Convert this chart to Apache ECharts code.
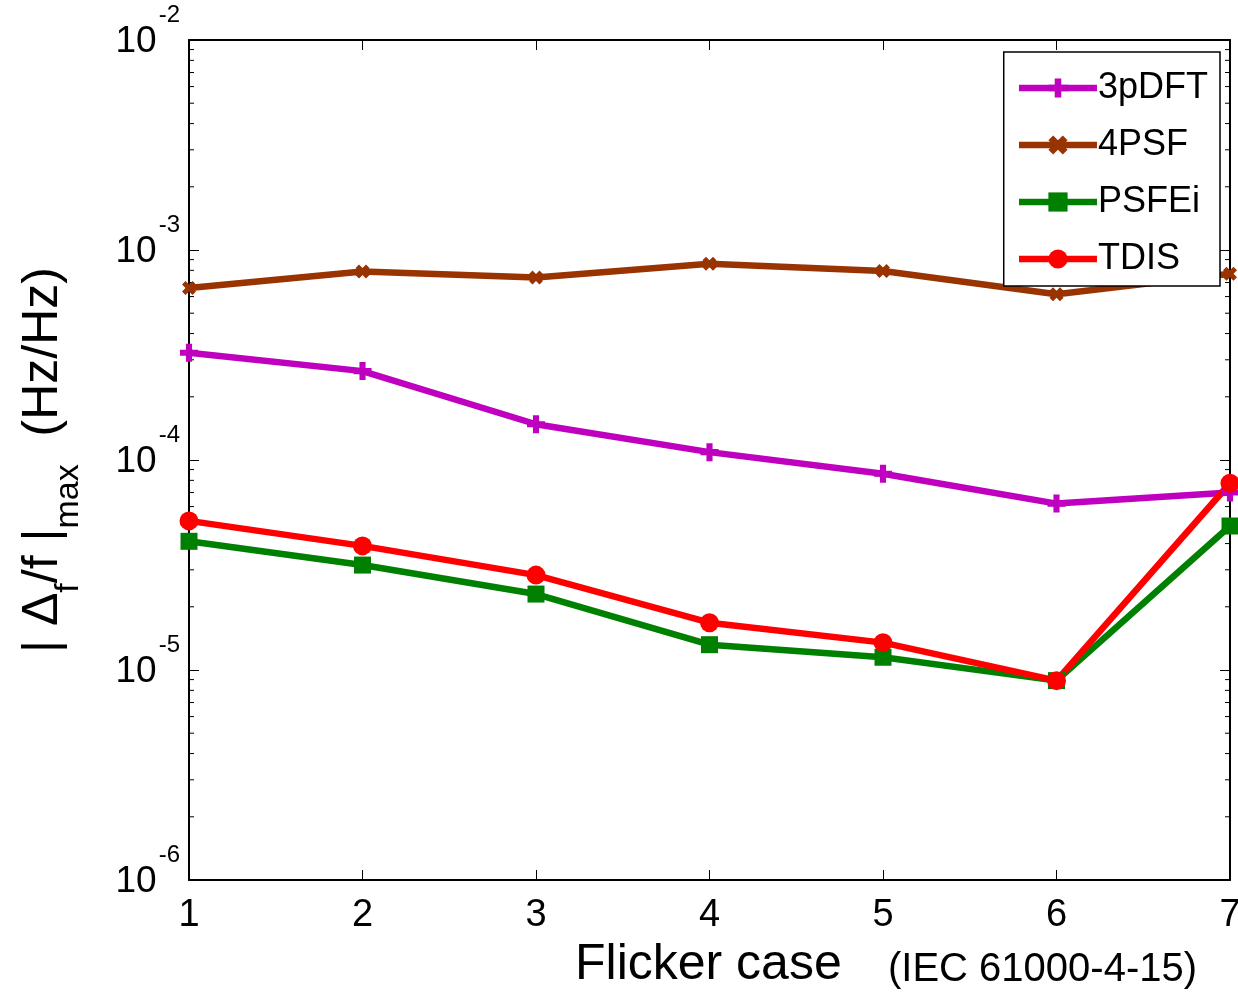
<!DOCTYPE html>
<html>
<head>
<meta charset="utf-8">
<script src="https://cdn.jsdelivr.net/npm/echarts@6/dist/echarts.min.js"></script>
<style>html,body{margin:0;padding:0;background:#fff}#c{width:1238px;height:996px}</style>
</head>
<body>
<div id="c"></div>
<script>
const cases = [1, 2, 3, 4, 5, 6, 7];
const dft3p = [3.24e-4, 2.65e-4, 1.48e-4, 1.09e-4, 8.6e-5, 6.2e-5, 7.0e-5];
const psf4 = [6.6e-4, 7.9e-4, 7.4e-4, 8.6e-4, 7.95e-4, 6.15e-4, 7.7e-4];
const psfei = [4.1e-5, 3.16e-5, 2.3e-5, 1.32e-5, 1.15e-5, 8.9e-6, 4.85e-5];
const tdis = [5.13e-5, 3.9e-5, 2.83e-5, 1.68e-5, 1.35e-5, 8.9e-6, 7.75e-5];
const seriesNames = ['3pDFT', '4PSF', 'PSFEi', 'TDIS'];
const yDecades = [1e-6, 1e-5, 1e-4, 1e-3, 1e-2];
const minorMultipliers = [2, 3, 4, 5, 6, 7, 8, 9];
const xTitle = 'Flicker case';
const xSubtitle = '(IEC 61000-4-15)';

const FONT = 'Liberation Sans, Arial, sans-serif';
const pair = arr => cases.map((c, i) => [c, arr[i]]);

const minorData = [];
for (let d = 0; d < yDecades.length - 1; d++) {
  for (const m of minorMultipliers) minorData.push([cases[0], yDecades[d] * m]);
}

const plusPath = 'path://M3.3,0 H6.7 V3.3 H10 V6.7 H6.7 V10 H3.3 V6.7 H0 V3.3 H3.3 Z';
const xPath = 'path://M0,2.5 L2.5,0 L5,2.5 L7.5,0 L10,2.5 L7.5,5 L10,7.5 L7.5,10 L5,7.5 L2.5,10 L0,7.5 L2.5,5 Z';

function lineSeries(name, data, color, symbol, size) {
  return {
    name, type: 'line', data: pair(data), xAxisIndex: 0, yAxisIndex: 0,
    symbol, symbolSize: size, showSymbol: true, clip: false,
    lineStyle: { color, width: 6.5 }, itemStyle: { color, borderWidth: 0 },
    emphasis: { disabled: true }, z: 3
  };
}

const chart = echarts.init(document.getElementById('c'), null, { renderer: 'canvas' });
chart.setOption({
  animation: false,
  backgroundColor: '#ffffff',
  textStyle: { fontFamily: FONT },
  grid: { left: 189, right: 8, top: 40, bottom: 116, containLabel: false, outerBoundsMode: 'none' },
  legend: {
    data: seriesNames, orient: 'vertical', right: 18, top: 52,
    backgroundColor: '#ffffff', borderColor: '#000', borderWidth: 1.5, borderRadius: 0,
    padding: [16, 12, 7, 12], itemGap: 17, itemWidth: 78, itemHeight: 24,
    lineStyle: { width: 6.5 },
    textStyle: { fontSize: 36, color: '#000', fontFamily: FONT, lineHeight: 40, padding: [0, 0, 0, -4] },
    selectedMode: false
  },
  xAxis: [{
    type: 'value', min: 1, max: 7, interval: 1, position: 'bottom',
    axisLine: { lineStyle: { color: '#000', width: 2 } },
    axisTick: { inside: true, length: 10, lineStyle: { color: '#000', width: 1 } },
    axisLabel: { fontSize: 38, color: '#000', margin: 17, fontFamily: FONT },
    splitLine: { show: false }
  }, {
    type: 'value', min: 1, max: 7, interval: 1, position: 'top',
    axisLine: { lineStyle: { color: '#000', width: 2 } },
    axisTick: { inside: true, length: 10, lineStyle: { color: '#000', width: 1 } },
    axisLabel: { show: false }, splitLine: { show: false }
  }],
  yAxis: [{
    type: 'log', logBase: 10, min: yDecades[0], max: yDecades[yDecades.length - 1], position: 'left',
    axisLine: { show: true, lineStyle: { color: '#000', width: 2 } },
    axisTick: { show: true, inside: true, length: 10, lineStyle: { color: '#000', width: 1 } },
    axisLabel: {
      margin: 9, padding: [0, 0, 16, 0],
      formatter: v => '{b|10}{s|' + Math.round(Math.log10(v)) + '}',
      rich: {
        b: { fontSize: 37, color: '#000', fontFamily: FONT, verticalAlign: 'bottom', padding: [20, 0, 0, 0] },
        s: { fontSize: 24, color: '#000', fontFamily: FONT, verticalAlign: 'top', padding: [0, 0, 0, 2] }
      }
    },
    splitLine: { show: false },
    name: '{t|| Δ}{sub|f}{t|/f |}{sub|max}{t|  (Hz/Hz)}',
    nameLocation: 'middle', nameRotate: 90, nameGap: 103,
    nameTextStyle: {
      rich: {
        t: { fontSize: 50, color: '#000', fontFamily: FONT, verticalAlign: 'top' },
        sub: { fontSize: 34, color: '#000', fontFamily: FONT, verticalAlign: 'bottom', padding: [34, 0, 0, 0] }
      }
    }
  }, {
    type: 'log', logBase: 10, min: yDecades[0], max: yDecades[yDecades.length - 1], position: 'right',
    axisLine: { show: true, lineStyle: { color: '#000', width: 2 } },
    axisTick: { show: true, inside: true, length: 10, lineStyle: { color: '#000', width: 1 } },
    axisLabel: { show: false }, splitLine: { show: false }
  }],
  graphic: [
    { type: 'text', left: 575, top: 940, silent: true,
      style: { text: xTitle, fontSize: 50, fontFamily: FONT, fill: '#000' } },
    { type: 'text', left: 888, top: 950, silent: true,
      style: { text: xSubtitle, fontSize: 40, fontFamily: FONT, fill: '#000' } }
  ],
  series: [
    {
      type: 'custom', name: 'minorTicks', xAxisIndex: 0, yAxisIndex: 0, silent: true, clip: false, z: 2,
      data: minorData,
      renderItem: (params, api) => {
        const v = api.value(1);
        const l = api.coord([cases[0], v]);
        const r = api.coord([cases[cases.length - 1], v]);
        const st = { stroke: '#000', lineWidth: 1 };
        return { type: 'group', children: [
          { type: 'line', shape: { x1: l[0], y1: l[1], x2: l[0] + 5, y2: l[1] }, style: st },
          { type: 'line', shape: { x1: r[0], y1: r[1], x2: r[0] - 5, y2: r[1] }, style: st }
        ] };
      }
    },
    lineSeries(seriesNames[0], dft3p, '#bf00bf', plusPath, 18),
    lineSeries(seriesNames[1], psf4, '#993300', xPath, 14),
    lineSeries(seriesNames[2], psfei, '#008000', 'rect', 17),
    lineSeries(seriesNames[3], tdis, '#ff0000', 'circle', 19)
  ]
});
</script>
</body>
</html>
